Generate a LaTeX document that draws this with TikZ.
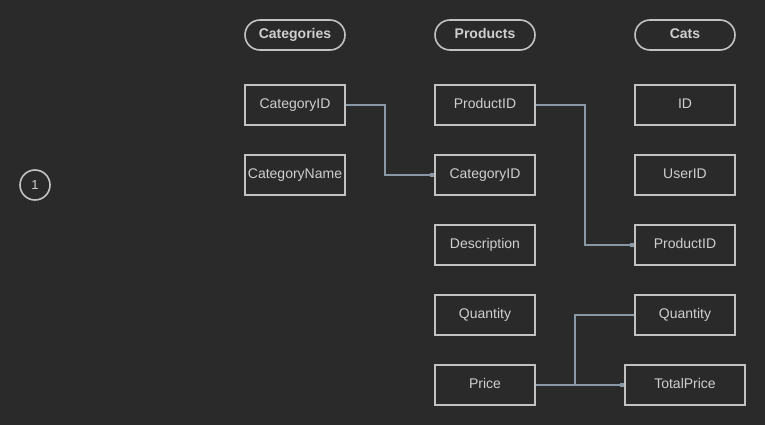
\documentclass[tikz,border=0pt]{standalone}
\usepackage{fontspec}
\setmainfont{Liberation Sans}
\usetikzlibrary{arrows.meta}
\definecolor{bg}{HTML}{2A2A2A}
\definecolor{edge}{HTML}{C2C2C2}
\definecolor{txt}{HTML}{CFCFCF}
\definecolor{wire}{HTML}{8A98A6}
\tikzset{
  field/.style={draw=edge, line width=1.6pt, minimum width=100pt, minimum height=40pt, inner sep=0pt, text=txt, font=\fontsize{14pt}{16pt}\selectfont, fill=bg, text height=10pt, text depth=3pt},
  widefield/.style={field, minimum width=120pt},
  header/.style={draw=edge, line width=1.6pt, rounded corners=15pt, minimum width=100pt, minimum height=30pt, inner sep=0pt, text=txt, font=\fontsize{14pt}{16pt}\selectfont\bfseries, text height=10pt, text depth=3pt},
  badge/.style={draw=edge, line width=1.6pt, circle, minimum size=30pt, inner sep=0pt, text=txt, font=\fontsize{13pt}{15pt}\selectfont},
  link/.style={draw=wire, line width=1.4pt, -{Square[length=4pt,width=4pt]}},
  plain/.style={draw=wire, line width=1.4pt}
}
\begin{document}
\begin{tikzpicture}[x=1pt,y=-1pt]
\fill[bg] (0,0) rectangle (765,425);
\useasboundingbox (0,0) rectangle (765,425);
\node[badge] (one) at (35,185) {1};
\node[header] (hcat) at (295,35) {Categories};
\node[header] (hprod) at (485,35) {Products};
\node[header] (hcats) at (685,35) {Cats};
\node[field] (catid) at (295,105) {CategoryID};
\node[field] (catname) at (295,175) {CategoryName};
\node[field] (prodid) at (485,105) {ProductID};
\node[field] (pcatid) at (485,175) {CategoryID};
\node[field] (desc) at (485,245) {Description};
\node[field] (pqty) at (485,315) {Quantity};
\node[field] (price) at (485,385) {Price};
\node[field] (id) at (685,105) {ID};
\node[field] (userid) at (685,175) {UserID};
\node[field] (cprodid) at (685,245) {ProductID};
\node[field] (cqty) at (685,315) {Quantity};
\node[widefield] (total) at (685,385) {TotalPrice};
\coordinate (j1) at (385,105);
\coordinate (j2) at (585,105);
\coordinate (j3) at (575,315);
\draw[link] (catid.east) -- (j1) |- (pcatid.west);
\draw[link] (prodid.east) -- (j2) |- (cprodid.west);
\draw[link] (price.east) -- (total.west);
\draw[plain] (cqty.west) -- (j3) -- (j3 |- total.west);
\end{tikzpicture}
\end{document}
